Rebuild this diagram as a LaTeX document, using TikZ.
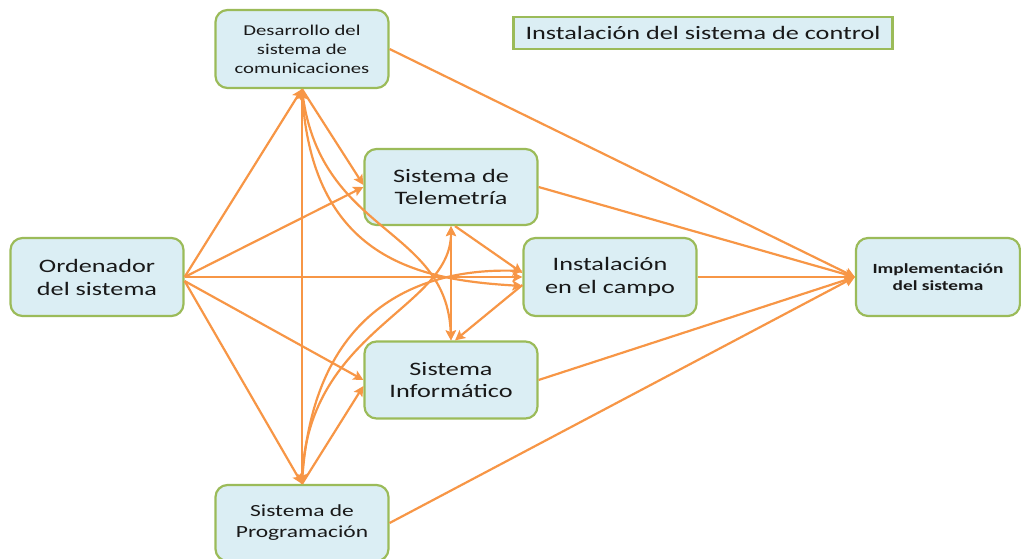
\documentclass[tikz,border=0pt]{standalone}
\usepackage{fontspec}
\setmainfont{Carlito}[FakeStretch=1.38]
\usetikzlibrary{arrows.meta}
\definecolor{TaskFill}{HTML}{DBEEF4}
\definecolor{TaskLine}{HTML}{9BBB59}
\definecolor{LinkOrange}{HTML}{F79646}

\begin{document}
\begin{tikzpicture}[x=1pt,y=-1pt,
    task/.style={draw=TaskLine,fill=TaskFill,line width=2.2pt,rounded corners=12pt,
                 align=center,minimum width=173pt,minimum height=78pt,inner sep=2pt,text=black!90},
    link/.style={draw=LinkOrange,line width=2.2pt,-{Stealth[length=10pt,width=10pt,inset=2pt]}},
    both/.style={link,{Stealth[length=10pt,width=10pt,inset=2pt]}-{Stealth[length=10pt,width=10pt,inset=2pt]}}]
  \useasboundingbox (0,0) rectangle (1021,559);
  % activities
  \node[task,font=\fontsize{19}{23}\selectfont] (ord) at (97,277) {Ordenador\\del sistema};
  \node[task,font=\fontsize{15}{19}\selectfont] (des) at (302,49) {Desarrollo del\\sistema de\\comunicaciones};
  \node[task,minimum height=76pt,font=\fontsize{19}{22}\selectfont] (tel) at (451,187) {Sistema de\\Telemetría};
  \node[task,font=\fontsize{19}{23}\selectfont] (ins) at (610,277) {Instalación\\en el campo};
  \node[task,minimum height=77pt,font=\fontsize{19}{22}\selectfont] (inf) at (451,380) {Sistema\\Informático};
  \node[task,minimum height=76pt,font=\fontsize{17}{21}\selectfont] (pro) at (302,523) {Sistema de\\Programación};
  \node[task,minimum width=164pt,font=\bfseries\fontsize{14}{17}\selectfont] (imp) at (938,277) {Implementación\\del sistema};
  \node[draw=TaskLine,fill=TaskFill,line width=2.2pt,minimum width=379pt,minimum height=32pt,
        inner sep=2pt,text=black!90,font=\fontsize{19}{23}\selectfont] (titulo) at (703,33) {Instalación del sistema de control};
  % from the ordering
  \draw[link] (ord.east) -- (des.south);
  \draw[link] (ord.east) -- (tel.west);
  \draw[link] (ord.east) -- (ins.west);
  \draw[link] ([yshift=-4pt]ord.east) -- (inf.west);
  \draw[link] ([yshift=-4pt]ord.east) -- (pro.north);
  % communications
  \draw[both] (des.south) -- (pro.north);
  \draw[link] (des.south) -- ([yshift=2pt]tel.west);
  \draw[link] (des.south) .. controls (310,260) and (420,280) .. ([yshift=-9pt]ins.west);
  \draw[link] (des.south) .. controls (318,235) and (447,225) .. (inf.north);
  \draw[link] (des.east) -- (imp.west);
  % programming
  \draw[link] (pro.north) .. controls (304,330) and (451,310) .. (tel.south);
  \draw[link] (pro.north) .. controls (312,300) and (430,268) .. ([yshift=6pt]ins.west);
  \draw[link] (pro.north) -- ([yshift=-6pt]inf.west);
  \draw[link] (pro.east) -- (imp.west);
  % telemetry, computing, field
  \draw[both] (tel.south) -- (inf.north);
  \draw[link] ([xshift=4pt]tel.south) -- ([yshift=4pt]ins.west);
  \draw[link] ([yshift=-8pt]ins.west) -- ([xshift=4pt]inf.north);
  \draw[link] (tel.east) -- (imp.west);
  \draw[link] (ins.east) -- (imp.west);
  \draw[link] (inf.east) -- (imp.west);
\end{tikzpicture}
\end{document}
